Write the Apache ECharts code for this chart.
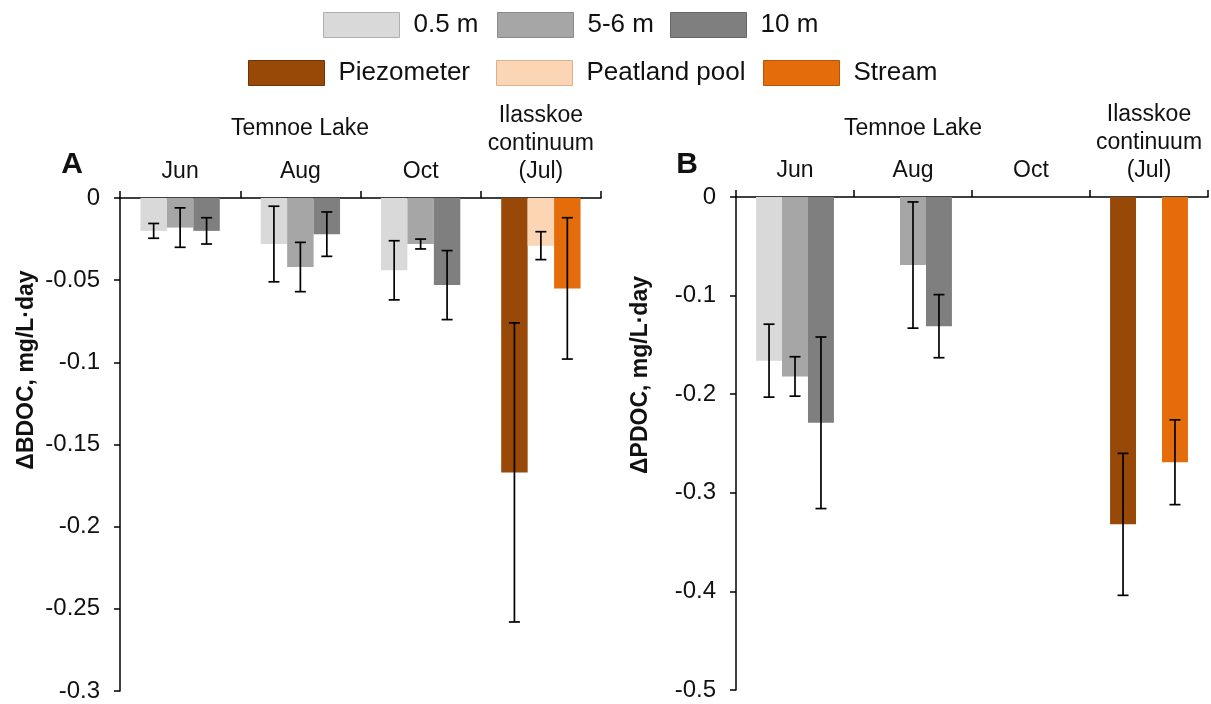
<!DOCTYPE html>
<html>
<head>
<meta charset="utf-8">
<title>BDOC / PDOC</title>
<script src="https://cdn.jsdelivr.net/npm/echarts@6/dist/echarts.min.js"></script>
<style>
  html, body { margin: 0; padding: 0; background: #fff; }
  #chart { width: 1211px; height: 704px; }
</style>
</head>
<body>
<div id="chart"></div>
<script>
// categories (top axis)
var cats = ['Jun', 'Aug', 'Oct', 'Ilasskoe\ncontinuum\n(Jul)'];

// panel A: delta BDOC, mg/L*day
var bdoc05 = [-0.020, -0.028, -0.044, null];
var bdoc56 = [-0.018, -0.042, -0.028, null];
var bdoc10 = [-0.020, -0.022, -0.053, null];
var bdocPiezo = [null, null, null, -0.167];
var bdocPool = [null, null, null, -0.029];
var bdocStream = [null, null, null, -0.055];
var bdoc05Err = [0.0045, 0.023, 0.018, null];
var bdoc56Err = [0.012, 0.015, 0.003, null];
var bdoc10Err = [0.008, 0.0135, 0.021, null];
var bdocPiezoErr = [null, null, null, 0.091];
var bdocPoolErr = [null, null, null, 0.0085];
var bdocStreamErr = [null, null, null, 0.043];

// panel B: delta PDOC, mg/L*day
var pdoc05 = [-0.166, null, null, null];
var pdoc56 = [-0.182, -0.069, null, null];
var pdoc10 = [-0.229, -0.131, null, null];
var pdocPiezo = [null, null, null, -0.332];
var pdocPool = [null, null, null, null];
var pdocStream = [null, null, null, -0.269];
var pdoc05Err = [0.037, null, null, null];
var pdoc56Err = [0.020, 0.064, null, null];
var pdoc10Err = [0.087, 0.032, null, null];
var pdocPiezoErr = [null, null, null, 0.072];
var pdocPoolErr = [null, null, null, null];
var pdocStreamErr = [null, null, null, 0.043];

var names = ['0.5 m', '5-6 m', '10 m', 'Piezometer', 'Peatland pool', 'Stream'];
var colors = ['#d9d9d9', '#a6a6a6', '#7f7f7f', '#984807', '#fcd5b5', '#e46c0a'];
var borders = ['#b0b0b0', '#8a8a8a', '#666666', '#6e3405', '#d9b090', '#b55508'];
var slots = [0, 1, 2, 0, 1, 2];

var FONT = 'Liberation Sans';
var CAT_GAP = 0.34;

var chart = echarts.init(document.getElementById('chart'));

function errData(vals, errs) {
    var out = [];
    for (var s = 0; s < vals.length; s++) {
        for (var c = 0; c < cats.length; c++) {
            if (vals[s][c] == null || errs[s][c] == null) continue;
            out.push([c, slots[s], vals[s][c] - errs[s][c], vals[s][c] + errs[s][c]]);
        }
    }
    return out;
}

function renderErr(params, api) {
    var c = api.value(0);
    var slot = api.value(1);
    var lo = api.coord([c, api.value(2)]);
    var hi = api.coord([c, api.value(3)]);
    var bw = api.size([1, 0])[0] * (1 - CAT_GAP) / 3;
    var x = lo[0] + (slot - 1) * bw;
    var cap = 5.5;
    var st = { stroke: '#000', lineWidth: 1.7 };
    return {
        type: 'group',
        children: [
            { type: 'line', shape: { x1: x, y1: lo[1], x2: x, y2: hi[1] }, style: st },
            { type: 'line', shape: { x1: x - cap, y1: lo[1], x2: x + cap, y2: lo[1] }, style: st },
            { type: 'line', shape: { x1: x - cap, y1: hi[1], x2: x + cap, y2: hi[1] }, style: st }
        ]
    };
}

function xAx(idx) {
    return {
        type: 'category',
        gridIndex: idx,
        data: cats,
        position: 'top',
        axisLine: { onZero: false, lineStyle: { color: '#000', width: 1.5 } },
        axisTick: { show: true, length: 7, lineStyle: { color: '#000', width: 1.5 } },
        axisLabel: { color: '#111', fontFamily: FONT, fontSize: 23, lineHeight: 28, margin: 12, interval: 0 },
        splitLine: { show: false }
    };
}

function yAx(idx, min, step) {
    return {
        type: 'value',
        gridIndex: idx,
        min: min,
        max: 0,
        interval: step,
        axisLine: { show: true, lineStyle: { color: '#000', width: 1.5 } },
        axisTick: { show: true, length: 6, lineStyle: { color: '#000', width: 1.5 } },
        axisLabel: { color: '#111', fontFamily: FONT, fontSize: 24, margin: 20 },
        splitLine: { show: false }
    };
}

var series = [];
var setA = [bdoc05, bdoc56, bdoc10, bdocPiezo, bdocPool, bdocStream];
var setB = [pdoc05, pdoc56, pdoc10, pdocPiezo, pdocPool, pdocStream];
[setA, setB].forEach(function (set, g) {
    set.forEach(function (vals, i) {
        series.push({
            name: names[i],
            type: 'bar',
            xAxisIndex: g,
            yAxisIndex: g,
            stack: 'g' + g + 's' + slots[i],
            barGap: '0%',
            barCategoryGap: (CAT_GAP * 100) + '%',
            itemStyle: { color: colors[i] },
            data: vals
        });
    });
});
series.push({
    type: 'custom', xAxisIndex: 0, yAxisIndex: 0, renderItem: renderErr, z: 10,
    encode: { x: 0, y: [2, 3] },
    data: errData(setA, [bdoc05Err, bdoc56Err, bdoc10Err, bdocPiezoErr, bdocPoolErr, bdocStreamErr])
});
series.push({
    type: 'custom', xAxisIndex: 1, yAxisIndex: 1, renderItem: renderErr, z: 10,
    encode: { x: 0, y: [2, 3] },
    data: errData(setB, [pdoc05Err, pdoc56Err, pdoc10Err, pdocPiezoErr, pdocPoolErr, pdocStreamErr])
});

// one legend per entry so they sit where the original puts them
var legendPos = [[323, 12], [497, 12], [670, 12], [248, 60], [496, 60], [763, 60]];
var legends = names.map(function (n, i) {
    return {
        left: legendPos[i][0],
        top: legendPos[i][1],
        padding: 0,
        itemWidth: 76,
        itemHeight: 25,
        selectedMode: false,
        icon: 'rect',
        textStyle: { color: '#111', fontFamily: FONT, fontSize: 26, padding: [0, 0, 0, 9] },
        data: [{ name: n, itemStyle: { borderColor: borders[i], borderWidth: 1 } }]
    };
});

function label(text, x, y, size, bold) {
    return {
        type: 'text', x: x, y: y,
        style: {
            text: text, fill: '#111', fontFamily: FONT, fontSize: size,
            fontWeight: bold ? 'bold' : 'normal', align: 'center', verticalAlign: 'middle'
        }
    };
}

function yName(text, x, y) {
    var t = label(text, x, y, 23, true);
    t.rotation = Math.PI / 2;
    return t;
}

chart.setOption({
    animation: false,
    legend: legends,
    grid: [
        { left: 120, top: 198, width: 481, height: 493 },
        { left: 736, top: 197, width: 472, height: 493 }
    ],
    xAxis: [xAx(0), xAx(1)],
    yAxis: [yAx(0, -0.3, 0.05), yAx(1, -0.5, 0.1)],
    graphic: [
        label('Temnoe Lake', 300, 129, 23, false),
        label('Temnoe Lake', 913, 129, 23, false),
        label('A', 72, 165, 30, true),
        label('B', 687, 165, 30, true),
        yName('\u0394BDOC, mg/L\u00b7day', 27, 370),
        yName('\u0394PDOC, mg/L\u00b7day', 641, 375)
    ],
    series: series
});
</script>
</body>
</html>
